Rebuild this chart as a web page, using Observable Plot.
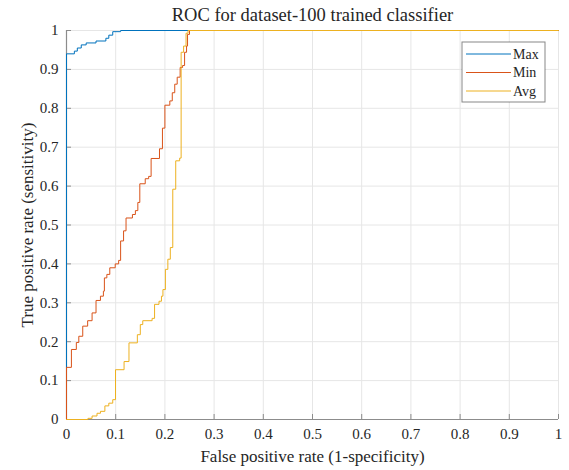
<!DOCTYPE html>
<html>
<head>
<meta charset="utf-8">
<script src="https://cdn.jsdelivr.net/npm/d3@7"></script>
<script src="https://cdn.jsdelivr.net/npm/@observablehq/plot@0.6"></script>
<style>
  html, body { margin: 0; padding: 0; background: white; }
  #chart { width: 569px; height: 470px; }
  #chart svg, #chart svg text { font-family: 'Liberation Serif', 'Times New Roman', serif; }
</style>
</head>
<body>
<div id="chart"></div>
<script>
const titleText = "ROC for dataset-100 trained classifier";
const xLabelText = "False positive rate (1-specificity)";
const yLabelText = "True positive rate (sensitivity)";

const xTicks = [0, 0.1, 0.2, 0.3, 0.4, 0.5, 0.6, 0.7, 0.8, 0.9, 1];
const yTicks = [0, 0.1, 0.2, 0.3, 0.4, 0.5, 0.6, 0.7, 0.8, 0.9, 1];

const seriesNames = ["Max", "Min", "Avg"];
const seriesColors = ["#0072BD", "#D95319", "#EDB120"];

const maxFpr = [0, 0, 0.016, 0.022, 0.03, 0.04, 0.06, 0.08, 0.086, 0.094, 0.11, 1];
const maxTpr = [0, 0.94, 0.947, 0.955, 0.963, 0.968, 0.973, 0.98, 0.988, 0.997, 1, 1];

const minFpr = [0, 0, 0.010, 0.020, 0.025, 0.033, 0.043, 0.052, 0.060, 0.069, 0.075, 0.077, 0.082, 0.088, 0.099, 0.106, 0.110, 0.116, 0.121, 0.134, 0.140, 0.145, 0.149, 0.160, 0.167, 0.172, 0.189, 0.195, 0.200, 0.210, 0.215, 0.220, 0.225, 0.231, 0.236, 0.240, 0.244, 0.246, 0.250, 1];
const minTpr = [0, 0.134, 0.18, 0.198, 0.214, 0.240, 0.254, 0.274, 0.306, 0.317, 0.330, 0.364, 0.373, 0.390, 0.400, 0.409, 0.459, 0.485, 0.518, 0.527, 0.537, 0.558, 0.606, 0.619, 0.625, 0.671, 0.696, 0.749, 0.808, 0.819, 0.840, 0.862, 0.880, 0.905, 0.910, 0.944, 0.960, 0.990, 1, 1];

const avgFpr = [0, 0.0436, 0.052, 0.062, 0.069, 0.078, 0.086, 0.094, 0.0996, 0.117, 0.127, 0.144, 0.150, 0.155, 0.174, 0.179, 0.188, 0.193, 0.196, 0.201, 0.206, 0.211, 0.216, 0.222, 0.230, 0.233, 0.238, 0.243, 0.247, 1];
const avgTpr = [0, 0.003, 0.009, 0.016, 0.021, 0.035, 0.042, 0.051, 0.128, 0.149, 0.197, 0.218, 0.244, 0.254, 0.26, 0.296, 0.304, 0.317, 0.334, 0.386, 0.412, 0.442, 0.592, 0.665, 0.672, 0.944, 0.96, 0.993, 1, 1];

const toRows = (fpr, tpr, name) => fpr.map((x, i) => ({x, y: tpr[i], series: name}));
const maxRows = toRows(maxFpr, maxTpr, "Max");
const minRows = toRows(minFpr, minTpr, "Min");
const avgRows = toRows(avgFpr, avgTpr, "Avg");

const font = "'Liberation Serif', 'Times New Roman', serif";
const axisGray = "#8c8c8c";
const gridGray = "#e6e6e6";
const textColor = "#262626";

const chart = Plot.plot({
  width: 569,
  height: 470,
  marginLeft: 66,
  marginRight: 11,
  marginTop: 30,
  marginBottom: 51,
  style: {fontFamily: font, fontSize: "15px", color: textColor, background: "white"},
  x: {domain: [0, 1]},
  y: {domain: [0, 1]},
  marks: [
    Plot.gridX(xTicks, {stroke: gridGray, strokeOpacity: 1}),
    Plot.gridY(yTicks, {stroke: gridGray, strokeOpacity: 1}),
    Plot.ruleX([0], {stroke: axisGray, strokeWidth: 1.2}),
    Plot.ruleY([0], {stroke: axisGray, strokeWidth: 1.2}),
    Plot.axisX(xTicks, {tickSize: -5, tickPadding: 14, stroke: axisGray, fill: textColor, tickFormat: d => String(d), label: null, fontSize: 15, fontFamily: font}),
    Plot.axisY(yTicks, {tickSize: -5, tickPadding: 13, stroke: axisGray, fill: textColor, tickFormat: d => String(d), label: null, fontSize: 15, fontFamily: font}),
    Plot.line(maxRows, {x: "x", y: "y", curve: "step-after", stroke: seriesColors[0], strokeWidth: 1}),
    Plot.line(minRows, {x: "x", y: "y", curve: "step-after", stroke: seriesColors[1], strokeWidth: 1}),
    Plot.line(avgRows, {x: "x", y: "y", curve: "step-after", stroke: seriesColors[2], strokeWidth: 1}),
    Plot.text([titleText], {frameAnchor: "top", lineAnchor: "middle", dy: -15, fontSize: 18.5, fill: textColor, fontFamily: font}),
    Plot.text([xLabelText], {frameAnchor: "bottom", lineAnchor: "middle", dy: 37, fontSize: 17, fill: textColor, fontFamily: font}),
    Plot.text([yLabelText], {frameAnchor: "left", textAnchor: "middle", lineAnchor: "middle", dx: -39, rotate: -90, fontSize: 17, fill: textColor, fontFamily: font})
  ]
});

// Legend (MATLAB-style box, top right)
const svg = d3.select(chart);
const lg = svg.append("g").attr("transform", "translate(462,42)");
lg.append("rect").attr("x", 0).attr("y", 0).attr("width", 83).attr("height", 60)
  .attr("fill", "white").attr("stroke", "#262626").attr("stroke-opacity", 0.55).attr("stroke-width", 1);
seriesNames.forEach((name, i) => {
  const yy = 12 + i * 18.5;
  lg.append("line").attr("x1", 4).attr("x2", 49).attr("y1", yy).attr("y2", yy)
    .attr("stroke", seriesColors[i]).attr("stroke-width", 1);
  lg.append("text").attr("x", 51).attr("y", yy).attr("dy", "0.35em")
    .attr("text-anchor", "start")
    .attr("font-family", font).attr("font-size", 14).attr("fill", textColor).text(name);
});

document.getElementById("chart").appendChild(chart);
</script>
</body>
</html>
